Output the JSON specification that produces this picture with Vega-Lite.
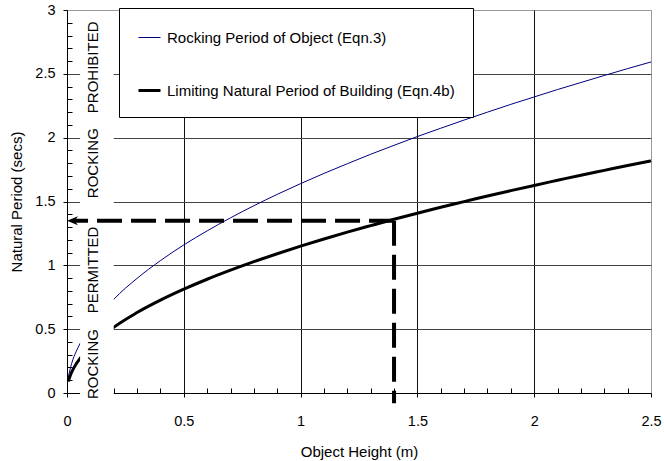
{
  "$schema": "https://vega.github.io/schema/vega-lite/v6.json",
  "width": 584,
  "height": 383,
  "autosize": {"type": "none"},
  "padding": {"left": 67, "top": 10, "right": 13, "bottom": 68},
  "config": {
    "view": {"stroke": "#999", "strokeWidth": 1},
    "font": "Liberation Sans",
    "legend": {
      "orient": "none",
      "legendX": 52,
      "legendY": -2,
      "strokeColor": "black",
      "fillColor": "white",
      "padding": 18,
      "rowPadding": 32,
      "symbolType": "stroke",
      "symbolSize": 484,
      "labelFontSize": 15,
      "labelOffset": 5,
      "labelColor": "black",
      "labelLimit": 400
    }
  },
  "datasets": {
    "curves": [
      {"h": 0.005, "t": 0.12, "s": "Rocking Period of Object (Eqn.3)"},
      {"h": 0.02, "t": 0.232, "s": "Rocking Period of Object (Eqn.3)"},
      {"h": 0.04, "t": 0.328, "s": "Rocking Period of Object (Eqn.3)"},
      {"h": 0.056, "t": 0.388, "s": "Rocking Period of Object (Eqn.3)"},
      {"h": 0.2, "t": 0.733, "s": "Rocking Period of Object (Eqn.3)"},
      {"h": 0.3, "t": 0.898, "s": "Rocking Period of Object (Eqn.3)"},
      {"h": 0.4, "t": 1.037, "s": "Rocking Period of Object (Eqn.3)"},
      {"h": 0.5, "t": 1.16, "s": "Rocking Period of Object (Eqn.3)"},
      {"h": 0.6, "t": 1.27, "s": "Rocking Period of Object (Eqn.3)"},
      {"h": 0.7, "t": 1.372, "s": "Rocking Period of Object (Eqn.3)"},
      {"h": 0.8, "t": 1.467, "s": "Rocking Period of Object (Eqn.3)"},
      {"h": 0.9, "t": 1.556, "s": "Rocking Period of Object (Eqn.3)"},
      {"h": 1.0, "t": 1.64, "s": "Rocking Period of Object (Eqn.3)"},
      {"h": 1.1, "t": 1.72, "s": "Rocking Period of Object (Eqn.3)"},
      {"h": 1.2, "t": 1.796, "s": "Rocking Period of Object (Eqn.3)"},
      {"h": 1.3, "t": 1.87, "s": "Rocking Period of Object (Eqn.3)"},
      {"h": 1.4, "t": 1.94, "s": "Rocking Period of Object (Eqn.3)"},
      {"h": 1.5, "t": 2.009, "s": "Rocking Period of Object (Eqn.3)"},
      {"h": 1.6, "t": 2.074, "s": "Rocking Period of Object (Eqn.3)"},
      {"h": 1.7, "t": 2.138, "s": "Rocking Period of Object (Eqn.3)"},
      {"h": 1.8, "t": 2.2, "s": "Rocking Period of Object (Eqn.3)"},
      {"h": 1.9, "t": 2.261, "s": "Rocking Period of Object (Eqn.3)"},
      {"h": 2.0, "t": 2.319, "s": "Rocking Period of Object (Eqn.3)"},
      {"h": 2.1, "t": 2.377, "s": "Rocking Period of Object (Eqn.3)"},
      {"h": 2.2, "t": 2.432, "s": "Rocking Period of Object (Eqn.3)"},
      {"h": 2.3, "t": 2.487, "s": "Rocking Period of Object (Eqn.3)"},
      {"h": 2.4, "t": 2.541, "s": "Rocking Period of Object (Eqn.3)"},
      {"h": 2.5, "t": 2.593, "s": "Rocking Period of Object (Eqn.3)"},
      {"h": 0.005, "t": 0.09, "s": "Limiting Natural Period of Building (Eqn.4b)"},
      {"h": 0.02, "t": 0.163, "s": "Limiting Natural Period of Building (Eqn.4b)"},
      {"h": 0.04, "t": 0.23, "s": "Limiting Natural Period of Building (Eqn.4b)"},
      {"h": 0.056, "t": 0.272, "s": "Limiting Natural Period of Building (Eqn.4b)"},
      {"h": 0.2, "t": 0.514, "s": "Limiting Natural Period of Building (Eqn.4b)"},
      {"h": 0.3, "t": 0.63, "s": "Limiting Natural Period of Building (Eqn.4b)"},
      {"h": 0.4, "t": 0.727, "s": "Limiting Natural Period of Building (Eqn.4b)"},
      {"h": 0.5, "t": 0.813, "s": "Limiting Natural Period of Building (Eqn.4b)"},
      {"h": 0.6, "t": 0.891, "s": "Limiting Natural Period of Building (Eqn.4b)"},
      {"h": 0.7, "t": 0.962, "s": "Limiting Natural Period of Building (Eqn.4b)"},
      {"h": 0.8, "t": 1.029, "s": "Limiting Natural Period of Building (Eqn.4b)"},
      {"h": 0.9, "t": 1.091, "s": "Limiting Natural Period of Building (Eqn.4b)"},
      {"h": 1.0, "t": 1.15, "s": "Limiting Natural Period of Building (Eqn.4b)"},
      {"h": 1.1, "t": 1.206, "s": "Limiting Natural Period of Building (Eqn.4b)"},
      {"h": 1.2, "t": 1.26, "s": "Limiting Natural Period of Building (Eqn.4b)"},
      {"h": 1.3, "t": 1.311, "s": "Limiting Natural Period of Building (Eqn.4b)"},
      {"h": 1.4, "t": 1.361, "s": "Limiting Natural Period of Building (Eqn.4b)"},
      {"h": 1.5, "t": 1.408, "s": "Limiting Natural Period of Building (Eqn.4b)"},
      {"h": 1.6, "t": 1.455, "s": "Limiting Natural Period of Building (Eqn.4b)"},
      {"h": 1.7, "t": 1.499, "s": "Limiting Natural Period of Building (Eqn.4b)"},
      {"h": 1.8, "t": 1.543, "s": "Limiting Natural Period of Building (Eqn.4b)"},
      {"h": 1.9, "t": 1.585, "s": "Limiting Natural Period of Building (Eqn.4b)"},
      {"h": 2.0, "t": 1.626, "s": "Limiting Natural Period of Building (Eqn.4b)"},
      {"h": 2.1, "t": 1.666, "s": "Limiting Natural Period of Building (Eqn.4b)"},
      {"h": 2.2, "t": 1.706, "s": "Limiting Natural Period of Building (Eqn.4b)"},
      {"h": 2.3, "t": 1.744, "s": "Limiting Natural Period of Building (Eqn.4b)"},
      {"h": 2.4, "t": 1.782, "s": "Limiting Natural Period of Building (Eqn.4b)"},
      {"h": 2.5, "t": 1.818, "s": "Limiting Natural Period of Building (Eqn.4b)"}
    ],
    "labels": [
      {"txt": "ROCKING", "h": 0.111, "t": 0.227},
      {"txt": "PERMITTED", "h": 0.111, "t": 0.964},
      {"txt": "ROCKING", "h": 0.111, "t": 1.80},
      {"txt": "PROHIBITED", "h": 0.111, "t": 2.551}
    ]
  },
  "layer": [
    {
      "data": {"name": "curves"},
      "mark": {"type": "line", "interpolate": "monotone"},
      "encoding": {
        "x": {
          "field": "h",
          "type": "quantitative",
          "scale": {"domain": [0, 2.5], "nice": false},
          "axis": {
            "values": [0, 0.1, 0.2, 0.3, 0.4, 0.5, 0.6, 0.7, 0.8, 0.9, 1, 1.1, 1.2, 1.3, 1.4, 1.5, 1.6, 1.7, 1.8, 1.9, 2, 2.1, 2.2, 2.3, 2.4, 2.5],
            "tickCount": 200,
            "format": "~g",
            "labelExpr": "indexof([0,0.5,1,1.5,2,2.5], datum.value) >= 0 ? datum.label : ''",
            "labelFlush": false,
            "labelOverlap": false,
            "labelBound": false,
            "labelFontSize": 14.5,
            "labelColor": "black",
            "labelPadding": 17,
            "tickSize": {"condition": {"test": "indexof([0,0.5,1,1.5,2,2.5], datum.value) >= 0", "value": 4}, "value": -5},
            "tickColor": "black",
            "domainColor": "black",
            "grid": true,
            "gridColor": "#111",
            "gridOpacity": {"condition": {"test": "indexof([0.5,1,1.5,2], datum.value) >= 0", "value": 1}, "value": 0},
            "title": "Object Height (m)",
            "titleFontSize": 15,
            "titleFontWeight": "normal",
            "titleColor": "black",
            "titlePadding": 17
          }
        },
        "y": {
          "field": "t",
          "type": "quantitative",
          "scale": {"domain": [0, 3], "nice": false},
          "axis": {
            "values": [0, 0.1, 0.2, 0.3, 0.4, 0.5, 0.6, 0.7, 0.8, 0.9, 1, 1.1, 1.2, 1.3, 1.4, 1.5, 1.6, 1.7, 1.8, 1.9, 2, 2.1, 2.2, 2.3, 2.4, 2.5, 2.6, 2.7, 2.8, 2.9, 3],
            "tickCount": 200,
            "format": "~g",
            "labelExpr": "indexof([0,0.5,1,1.5,2,2.5,3], datum.value) >= 0 ? datum.label : ''",
            "labelFlush": false,
            "labelOverlap": false,
            "labelBound": false,
            "labelFontSize": 14.5,
            "labelColor": "black",
            "labelPadding": 8,
            "tickSize": {"condition": {"test": "indexof([0,0.5,1,1.5,2,2.5,3], datum.value) >= 0", "value": 4}, "value": -5},
            "tickColor": "black",
            "domainColor": "black",
            "grid": true,
            "gridColor": "#444",
            "gridOpacity": {"condition": {"test": "indexof([0.5,1,1.5,2,2.5], datum.value) >= 0", "value": 1}, "value": 0},
            "title": "Natural Period (secs)",
            "titleFontSize": 15,
            "titleFontWeight": "normal",
            "titleColor": "black",
            "titlePadding": 10
          }
        },
        "color": {
          "field": "s",
          "type": "nominal",
          "scale": {"domain": ["Rocking Period of Object (Eqn.3)", "Limiting Natural Period of Building (Eqn.4b)"], "range": ["#000080", "#000000"]},
          "legend": {"title": null}
        },
        "strokeWidth": {
          "field": "s",
          "type": "nominal",
          "scale": {"domain": ["Rocking Period of Object (Eqn.3)", "Limiting Natural Period of Building (Eqn.4b)"], "range": [1, 3]},
          "legend": {"title": null}
        }
      }
    },
    {
      "data": {"values": [{}]},
      "mark": {"type": "rect", "fill": "white"},
      "encoding": {
        "x": {"datum": 0.056, "type": "quantitative"},
        "x2": {"datum": 0.2},
        "y": {"datum": -0.06, "type": "quantitative"},
        "y2": {"datum": 2.97}
      }
    },
    {
      "data": {"name": "labels"},
      "mark": {"type": "text", "angle": 270, "fontSize": 15, "align": "center", "baseline": "middle", "color": "black"},
      "encoding": {
        "x": {"field": "h", "type": "quantitative"},
        "y": {"field": "t", "type": "quantitative"},
        "text": {"field": "txt"}
      }
    },
    {
      "data": {"values": [{}]},
      "mark": {"type": "rule", "strokeDash": [25, 9], "strokeWidth": 4, "color": "black"},
      "encoding": {
        "x": {"datum": 1.4, "type": "quantitative"},
        "x2": {"datum": 0.03},
        "y": {"datum": 1.35, "type": "quantitative"}
      }
    },
    {
      "data": {"values": [{}]},
      "mark": {"type": "rule", "strokeDash": [25, 9], "strokeWidth": 4, "color": "black"},
      "encoding": {
        "x": {"datum": 1.4, "type": "quantitative"},
        "y": {"datum": 1.35, "type": "quantitative"},
        "y2": {"datum": -0.08}
      }
    },
    {
      "data": {"values": [{}]},
      "mark": {"type": "point", "shape": "M0,0 L1.83,-0.75 L1.3,0 L1.83,0.75 Z", "size": 144, "filled": true, "color": "black", "opacity": 1, "strokeWidth": 0},
      "encoding": {
        "x": {"datum": 0, "type": "quantitative"},
        "y": {"datum": 1.35, "type": "quantitative"}
      }
    }
  ]
}
